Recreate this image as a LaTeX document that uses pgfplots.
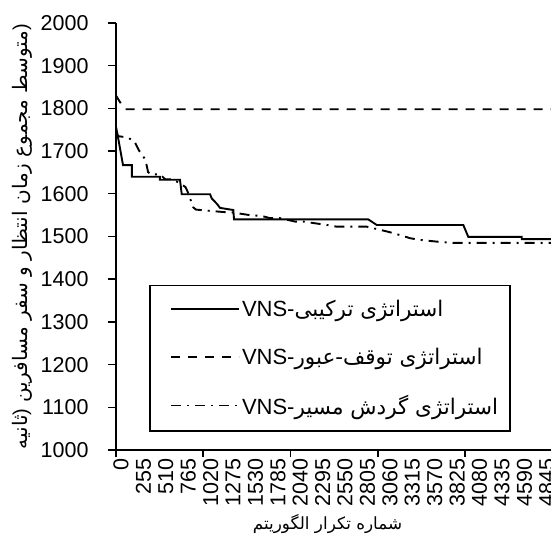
\documentclass[border=0pt]{standalone}
\usepackage{fontspec}
\setmainfont{Liberation Sans}
\newfontfamily\arabicfont[Script=Arabic]{DejaVu Sans}
\TeXXeTstate=1
\usepackage{pgfplots}
\pgfplotsset{compat=1.18}

\pgfplotstableread{
x y
0 1757
25 1730
80 1667
180 1667
180 1640
500 1640
500 1633
728 1633
748 1599
1070 1599
1090 1589
1146 1577
1184 1567
1335 1562
1343 1540
2871 1540
2967 1527
3952 1527
4009 1499
4617 1499
4617 1494
4950 1494
}\tblA

\pgfplotstableread{
x y
0 1830
45 1815
100 1798
4950 1798
}\tblB

\pgfplotstableread{
x y
0 1745
25 1735
130 1732
210 1723
260 1702
335 1680
365 1651
400 1645
500 1646
560 1634
650 1634
790 1616
815 1605
880 1568
910 1563
1070 1560
1240 1557
1335 1556
1525 1550
1661 1548
1752 1543
1866 1543
2037 1535
2128 1535
2230 1532
2400 1527
2512 1523
2853 1523
3099 1511
3270 1501
3346 1496
3460 1492
3650 1488
3835 1485
4950 1485
}\tblC

\newcommand{\legtext}[1]{\makebox[246bp][l]{\fontsize{22bp}{26bp}\selectfont VNS-{\arabicfont\fontsize{21.5bp}{26bp}\selectfont\beginR #1\endR}}}

\begin{document}
\begin{tikzpicture}
\begin{axis}[
  name=ax,
  scale only axis,
  width=435bp, height=427bp,
  xmin=0, xmax=4950, ymin=1000, ymax=2000,
  axis lines*=left,
  axis line style={line width=1.6bp},
  every tick/.style={black, line width=1.4bp},
  tick align=outside,
  major tick length=8bp,
  minor tick length=7bp,
  scaled ticks=false,
  /pgf/number format/assume math mode=true,
  /pgf/number format/set thousands separator={},
  ytick={1000,1100,...,2000},
  xtick={0,255,...,4845},
  minor xtick={0,990,1985,2980,3970},
  major x tick style={draw=none},
  tick label style={font=\fontsize{21.5bp}{24bp}\selectfont},
  x tick label style={rotate=90, anchor=east, inner sep=0bp, yshift=-5bp},
  y tick label style={anchor=east, xshift=-16bp},
  xlabel={{\arabicfont\beginR شماره تکرار الگوریتم\endR}},
  xlabel style={font=\fontsize{16.8bp}{20bp}\selectfont, at={(rel axis cs:0.5,0)}, anchor=base, xshift=-6bp, yshift=-79bp},
  ylabel={{\arabicfont\beginR ثانیه\endR})\ {\arabicfont\beginR متوسط مجموع زمان انتظار و سفر مسافرین\endR})},
  ylabel style={font=\fontsize{20bp}{24bp}\selectfont, at={(rel axis cs:0,0.5)}, anchor=center, yshift=94bp},
  legend cell align=left,
  legend image code/.code={\draw[#1] (0bp,0bp) -- (68bp,0bp);},
  legend style={at={(rel axis cs:0.0766,0.043)}, anchor=south west,
    draw=black, line width=1.6bp, inner xsep=20bp, inner ysep=13bp,
    row sep=25.5bp},
]
\addplot[black, line width=1.9bp] table[x=x,y=y]{\tblA};
\addlegendentry{\legtext{استراتژی ترکیبی}}
\addplot[black, line width=1.9bp, dash pattern=on 9bp off 8bp] table[x=x,y=y]{\tblB};
\addlegendentry{\legtext{استراتژی توقف-عبور}}
\addplot[black, line width=1.9bp, dash pattern=on 10bp off 6bp on 2bp off 6bp] table[x=x,y=y]{\tblC};
\addlegendentry{\legtext{استراتژی گردش مسیر}}
\end{axis}
\pgfresetboundingbox
\path ([xshift=-116bp,yshift=23bp]ax.north west) rectangle ([yshift=-86bp]ax.south east);
\end{tikzpicture}
\end{document}
